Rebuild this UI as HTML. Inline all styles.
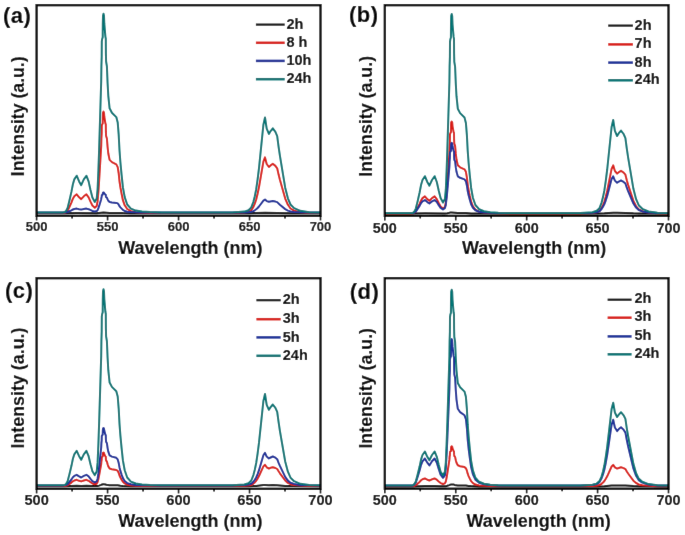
<!DOCTYPE html>
<html><head><meta charset="utf-8"><style>
html,body{margin:0;padding:0;background:#fff;}
svg{display:block;}
</style></head><body>
<svg width="685" height="535" viewBox="0 0 685 535">
<defs><filter id="bl" x="0" y="0" width="1" height="1"><feConvolveMatrix order="3" kernelMatrix="0.0035 0.0587 0.0035 0.0587 1.0000 0.0587 0.0035 0.0587 0.0035" edgeMode="duplicate"/></filter></defs>
<rect width="685" height="535" fill="#fff"/>
<g filter="url(#bl)">
<rect width="685" height="535" fill="#fff"/>
<polyline points="36.6,213.2 64.8,213.2 76.7,213.1 96.7,213.2 103.5,212.6 109.6,212.9 117.7,212.9 122.9,213.1 130.9,213.2 248.5,213.2 256.2,213.1 265.0,212.8 277.2,212.9 290.5,213.2 320.1,213.2" fill="none" stroke="#111111" stroke-width="2.0" stroke-linejoin="round"/>
<polyline points="36.6,213.1 62.6,213.1 64.8,212.9 66.2,212.3 67.6,210.9 69.5,206.9 71.4,202.6 72.9,198.7 74.3,196.3 76.7,194.3 79.1,197.3 81.2,199.2 83.8,196.3 86.4,194.3 88.6,197.3 90.5,201.6 92.4,205.5 94.8,207.7 96.7,206.0 97.6,201.2 98.4,191.6 99.1,181.3 101.2,146.1 101.4,138.5 101.7,133.4 101.8,125.8 102.1,124.6 102.7,123.6 102.8,116.7 103.0,112.6 103.5,111.6 104.0,112.6 104.3,116.7 105.4,123.3 105.8,124.3 105.9,131.9 106.1,136.0 106.9,138.5 107.6,147.1 108.3,153.5 109.6,159.9 111.9,162.1 116.3,164.4 117.7,167.1 118.7,173.5 119.5,181.3 120.4,187.4 121.6,193.9 122.9,200.2 124.7,205.3 127.2,209.0 130.9,211.2 135.8,212.2 142.0,212.7 150.1,212.9 161.6,213.1 232.1,213.1 244.3,212.6 248.5,211.8 251.3,210.2 253.4,206.9 254.8,203.6 256.2,199.5 257.6,193.7 259.0,187.1 263.4,161.6 265.0,157.4 266.7,164.0 268.9,167.0 270.6,165.4 272.8,163.8 275.4,165.9 277.2,168.3 278.6,174.6 279.9,179.8 285.2,198.6 287.9,204.8 290.5,208.5 294.1,210.6 300.3,212.2 309.2,213.0 320.1,213.1" fill="none" stroke="#d81e18" stroke-width="2.0" stroke-linejoin="round"/>
<polyline points="36.6,212.5 64.8,212.5 66.2,212.3 67.6,212.0 71.4,210.3 72.9,209.5 74.3,209.0 76.7,208.6 79.1,209.2 81.2,209.6 83.8,209.0 86.4,208.6 88.6,209.2 92.4,210.9 94.8,211.4 96.7,211.1 97.6,210.1 98.4,208.2 99.1,206.2 101.2,199.2 101.4,197.7 101.7,196.7 101.8,195.2 102.1,195.0 102.7,194.8 102.8,193.4 103.0,192.6 103.5,192.4 104.0,192.6 104.3,193.4 105.4,194.7 105.8,194.9 105.9,196.4 106.1,197.2 106.9,197.7 107.6,199.4 108.3,200.7 109.6,202.0 111.9,202.4 116.3,202.9 117.7,203.4 118.7,204.7 119.5,206.2 120.4,207.4 122.9,209.9 124.7,211.0 127.2,211.7 130.9,212.1 135.8,212.3 142.0,212.4 161.6,212.5 232.1,212.5 244.3,212.4 248.5,212.2 251.3,211.8 253.4,211.1 254.8,210.3 256.2,209.3 257.6,208.0 259.0,206.5 263.4,200.6 265.0,199.6 266.7,201.1 268.9,201.8 272.8,201.1 275.4,201.6 277.2,202.1 279.9,204.8 285.2,209.1 287.9,210.6 290.5,211.4 294.1,211.9 300.3,212.3 309.2,212.5 320.1,212.5" fill="none" stroke="#1f3098" stroke-width="2.0" stroke-linejoin="round"/>
<polyline points="36.6,212.4 62.6,212.4 64.8,212.1 66.2,210.8 67.6,208.0 69.5,200.3 71.4,191.9 72.9,184.2 74.3,179.4 76.7,175.7 79.1,181.4 81.2,185.2 83.8,179.4 86.4,175.7 88.6,181.4 90.5,190.0 92.4,197.5 94.8,201.9 96.7,198.5 97.6,189.2 98.4,170.3 99.1,150.2 101.2,81.3 101.4,66.4 101.7,56.5 101.8,41.6 102.1,39.2 102.7,37.2 102.8,23.7 103.0,15.8 103.5,13.8 104.0,15.8 104.3,23.7 105.4,36.6 105.8,38.6 105.9,53.5 106.1,61.5 106.9,66.4 107.6,83.3 108.3,95.8 109.6,108.3 111.9,112.7 116.3,117.1 117.7,122.4 118.7,134.9 119.5,150.2 120.4,162.2 121.6,174.9 122.9,187.2 124.7,197.1 127.2,204.5 130.9,208.6 135.8,210.6 142.0,211.6 150.1,212.1 161.6,212.4 232.1,212.4 244.3,211.6 248.5,210.2 251.3,207.4 253.4,201.8 254.8,196.2 256.2,189.2 257.6,179.4 259.0,168.1 263.4,124.7 265.0,117.5 266.7,128.7 268.9,133.9 270.6,131.1 272.8,128.4 275.4,131.9 277.2,136.1 278.6,146.8 279.9,155.7 285.2,187.7 287.9,198.3 290.5,204.5 294.1,208.1 300.3,210.8 309.2,212.2 320.1,212.4" fill="none" stroke="#057575" stroke-width="2.0" stroke-linejoin="round"/>
<rect x="36.6" y="5.2" width="283.90" height="210.60" fill="none" stroke="#000" stroke-width="2.3"/>
<line x1="36.60" y1="215.8" x2="36.60" y2="220.4" stroke="#000" stroke-width="1.6"/>
<line x1="72.09" y1="215.8" x2="72.09" y2="218.4" stroke="#000" stroke-width="1.6"/>
<line x1="107.57" y1="215.8" x2="107.57" y2="220.4" stroke="#000" stroke-width="1.6"/>
<line x1="143.06" y1="215.8" x2="143.06" y2="218.4" stroke="#000" stroke-width="1.6"/>
<line x1="178.55" y1="215.8" x2="178.55" y2="220.4" stroke="#000" stroke-width="1.6"/>
<line x1="214.04" y1="215.8" x2="214.04" y2="218.4" stroke="#000" stroke-width="1.6"/>
<line x1="249.53" y1="215.8" x2="249.53" y2="220.4" stroke="#000" stroke-width="1.6"/>
<line x1="285.01" y1="215.8" x2="285.01" y2="218.4" stroke="#000" stroke-width="1.6"/>
<line x1="320.50" y1="215.8" x2="320.50" y2="220.4" stroke="#000" stroke-width="1.6"/>
<polyline points="384.8,213.5 413.0,213.5 424.9,213.3 444.9,213.4 447.3,213.2 449.4,212.8 450.0,212.6 451.7,212.5 457.8,213.0 465.9,213.0 471.1,213.4 479.1,213.5 596.7,213.5 604.4,213.3 613.2,212.7 617.1,212.8 625.4,212.9 633.4,213.3 638.7,213.4 668.3,213.5" fill="none" stroke="#111111" stroke-width="2.0" stroke-linejoin="round"/>
<polyline points="384.8,213.4 410.8,213.4 413.0,213.3 414.4,212.7 415.8,211.4 417.7,207.8 419.6,203.9 421.1,200.4 422.5,198.1 424.9,196.4 427.3,199.1 429.4,200.8 432.0,198.1 434.6,196.4 436.8,199.1 438.7,203.0 440.6,206.5 443.0,208.5 444.9,207.0 445.8,202.6 446.6,193.9 447.3,184.6 449.4,152.7 449.6,145.9 449.9,141.3 450.0,134.4 450.3,133.3 450.9,132.3 451.0,126.1 451.2,122.4 451.7,121.5 452.2,122.4 452.5,126.1 453.6,132.1 454.0,133.0 454.1,139.9 454.3,143.6 455.1,145.9 455.8,153.7 456.5,159.5 457.8,165.2 460.1,167.3 464.5,169.3 465.9,171.8 466.9,177.6 467.7,184.6 468.6,190.1 469.8,196.0 471.1,201.7 472.9,206.3 475.4,209.7 479.1,211.7 484.0,212.6 490.2,213.0 498.3,213.3 509.8,213.4 580.3,213.4 592.5,213.0 596.7,212.3 599.5,210.9 601.6,208.0 603.0,205.2 604.4,201.6 605.8,196.7 607.2,190.9 611.6,168.9 613.2,165.3 614.9,171.0 617.1,173.6 618.8,172.2 621.0,170.8 623.6,172.6 625.4,174.7 626.8,180.2 628.1,184.7 633.4,200.9 636.1,206.3 638.7,209.4 642.3,211.2 648.5,212.6 657.4,213.3 668.3,213.4" fill="none" stroke="#d81e18" stroke-width="2.0" stroke-linejoin="round"/>
<polyline points="384.8,213.1 410.8,213.1 413.0,213.0 414.4,212.5 415.8,211.6 419.6,205.9 421.1,203.1 422.5,201.4 424.9,200.1 427.3,202.1 429.4,203.5 432.0,201.4 434.6,200.1 436.8,202.1 438.7,205.2 440.6,207.8 443.0,209.4 444.9,208.2 445.8,204.9 446.6,198.2 447.3,191.1 449.4,166.7 449.6,161.4 449.9,157.9 450.0,152.6 450.3,151.8 450.9,151.1 451.0,146.3 451.2,143.5 451.7,142.8 452.2,143.5 452.5,146.3 453.6,150.9 454.0,151.6 454.1,156.9 454.3,159.7 455.1,161.4 455.8,167.4 456.5,171.8 457.8,176.3 460.1,177.8 464.5,179.4 465.9,181.3 466.9,185.7 467.7,191.1 468.6,195.3 469.8,199.8 471.1,204.2 472.9,207.7 475.4,210.3 479.1,211.8 484.0,212.5 490.2,212.8 509.8,213.1 580.3,213.1 592.5,212.8 596.7,212.2 599.5,211.2 601.6,209.0 603.0,206.8 604.4,204.1 605.8,200.3 607.2,195.9 611.6,179.1 613.2,176.3 614.9,180.6 617.1,182.7 618.8,181.6 621.0,180.5 623.6,181.9 625.4,183.5 626.8,187.7 628.1,191.1 633.4,203.5 636.1,207.6 638.7,210.0 642.3,211.4 648.5,212.5 657.4,213.0 668.3,213.1" fill="none" stroke="#1f3098" stroke-width="2.0" stroke-linejoin="round"/>
<polyline points="384.8,213.0 410.8,213.0 413.0,212.7 414.4,211.4 415.8,208.6 417.7,200.9 419.6,192.5 421.1,184.7 422.5,180.0 424.9,176.2 427.3,182.0 429.4,185.7 432.0,180.0 434.6,176.2 436.8,182.0 438.7,190.5 440.6,198.1 443.0,202.5 444.9,199.1 445.8,189.7 446.6,170.8 447.3,150.7 449.4,81.7 449.6,66.7 449.9,56.8 450.0,41.9 450.3,39.5 450.9,37.5 451.0,24.0 451.2,16.0 451.7,14.0 452.2,16.0 452.5,24.0 453.6,36.9 454.0,38.9 454.1,53.8 454.3,61.8 455.1,66.7 455.8,83.7 456.5,96.2 457.8,108.7 460.1,113.1 464.5,117.5 465.9,122.9 466.9,135.4 467.7,150.7 468.6,162.7 469.8,175.4 471.1,187.7 472.9,197.7 475.4,205.0 479.1,209.2 484.0,211.2 490.2,212.2 498.3,212.7 509.8,213.0 580.3,213.0 592.5,212.2 596.7,210.8 599.5,208.1 601.6,202.6 603.0,197.1 604.4,190.2 605.8,180.6 607.2,169.5 611.6,127.0 613.2,119.9 614.9,130.9 617.1,136.0 618.8,133.2 621.0,130.6 623.6,134.0 625.4,138.1 626.8,148.6 628.1,157.4 633.4,188.8 636.1,199.2 638.7,205.2 642.3,208.8 648.5,211.4 657.4,212.8 668.3,213.0" fill="none" stroke="#057575" stroke-width="2.0" stroke-linejoin="round"/>
<rect x="384.8" y="5.2" width="283.70" height="210.60" fill="none" stroke="#000" stroke-width="2.3"/>
<line x1="384.80" y1="215.8" x2="384.80" y2="220.4" stroke="#000" stroke-width="1.6"/>
<line x1="420.26" y1="215.8" x2="420.26" y2="218.4" stroke="#000" stroke-width="1.6"/>
<line x1="455.73" y1="215.8" x2="455.73" y2="220.4" stroke="#000" stroke-width="1.6"/>
<line x1="491.19" y1="215.8" x2="491.19" y2="218.4" stroke="#000" stroke-width="1.6"/>
<line x1="526.65" y1="215.8" x2="526.65" y2="220.4" stroke="#000" stroke-width="1.6"/>
<line x1="562.11" y1="215.8" x2="562.11" y2="218.4" stroke="#000" stroke-width="1.6"/>
<line x1="597.58" y1="215.8" x2="597.58" y2="220.4" stroke="#000" stroke-width="1.6"/>
<line x1="633.04" y1="215.8" x2="633.04" y2="218.4" stroke="#000" stroke-width="1.6"/>
<line x1="668.50" y1="215.8" x2="668.50" y2="220.4" stroke="#000" stroke-width="1.6"/>
<polyline points="36.6,486.2 64.8,486.2 76.7,485.8 81.2,485.9 86.4,485.8 92.4,486.1 96.7,486.1 97.6,486.0 99.1,485.6 101.2,484.9 101.7,484.6 101.8,484.5 102.7,484.4 103.0,484.2 103.5,484.2 105.8,484.4 106.1,484.7 109.6,485.2 117.7,485.3 120.4,485.7 122.9,485.9 130.9,486.2 248.5,486.2 253.4,486.1 256.2,485.9 263.4,485.1 265.0,485.0 268.9,485.2 272.8,485.1 277.2,485.2 285.2,485.9 290.5,486.1 320.1,486.2" fill="none" stroke="#111111" stroke-width="2.0" stroke-linejoin="round"/>
<polyline points="36.6,486.0 64.8,485.9 66.2,485.7 67.6,485.3 71.4,482.6 72.9,481.3 74.3,480.5 76.7,479.8 79.1,480.8 81.2,481.4 83.8,480.5 86.4,479.8 88.6,480.8 90.5,482.2 92.4,483.5 94.8,484.2 96.7,483.7 97.6,482.1 98.4,478.9 99.1,475.5 101.2,464.0 101.4,461.5 101.7,459.8 101.8,457.3 102.1,456.9 102.7,456.5 102.8,454.3 103.0,452.9 103.5,452.6 104.0,452.9 104.3,454.3 105.4,456.4 105.8,456.8 105.9,459.3 106.1,460.6 106.9,461.5 107.6,464.3 108.3,466.4 109.6,468.5 111.9,469.2 116.3,470.0 117.7,470.9 118.7,473.0 119.5,475.5 120.4,477.5 121.6,479.7 122.9,481.8 124.7,483.4 127.2,484.7 130.9,485.4 135.8,485.7 142.0,485.9 161.6,486.0 232.1,486.0 244.3,485.8 248.5,485.5 251.3,484.9 253.4,483.6 254.8,482.4 256.2,480.8 257.6,478.6 259.0,476.1 263.4,466.4 265.0,464.8 266.7,467.3 268.9,468.5 270.6,467.8 272.8,467.2 275.4,468.0 277.2,469.0 278.6,471.3 279.9,473.3 285.2,480.5 287.9,482.9 290.5,484.2 294.1,485.0 300.3,485.6 309.2,486.0 320.1,486.0" fill="none" stroke="#d81e18" stroke-width="2.0" stroke-linejoin="round"/>
<polyline points="36.6,485.4 62.6,485.4 64.8,485.3 66.2,484.9 67.6,484.1 71.4,479.5 72.9,477.2 74.3,475.9 76.7,474.8 79.1,476.4 81.2,477.5 83.8,475.9 86.4,474.8 88.6,476.4 90.5,478.9 92.4,481.1 94.8,482.4 96.7,481.4 97.6,478.7 98.4,473.2 99.1,467.4 101.2,447.5 101.4,443.2 101.7,440.3 101.8,436.0 102.1,435.3 102.7,434.8 102.8,430.9 103.0,428.6 103.5,428.0 104.0,428.6 104.3,430.9 105.4,434.6 105.8,435.2 105.9,439.5 106.1,441.8 106.9,443.2 107.6,448.1 108.3,451.7 109.6,455.3 111.9,456.6 116.3,457.8 117.7,459.4 118.7,463.0 119.5,467.4 120.4,470.9 121.6,474.6 122.9,478.1 124.7,481.0 127.2,483.1 130.9,484.3 135.8,484.9 142.0,485.2 161.6,485.4 232.1,485.4 244.3,485.1 248.5,484.6 251.3,483.7 253.4,481.8 254.8,479.8 256.2,477.4 257.6,474.1 259.0,470.2 263.4,455.3 265.0,452.8 266.7,456.6 268.9,458.4 270.6,457.5 272.8,456.5 275.4,457.7 277.2,459.2 278.6,462.9 279.9,465.9 285.2,476.9 287.9,480.6 290.5,482.7 294.1,483.9 300.3,484.9 309.2,485.3 320.1,485.4" fill="none" stroke="#1f3098" stroke-width="2.0" stroke-linejoin="round"/>
<polyline points="36.6,485.3 62.6,485.3 64.8,485.0 66.2,483.8 67.6,481.2 69.5,473.9 71.4,466.1 72.9,458.8 74.3,454.4 76.7,450.8 79.1,456.2 81.2,459.8 83.8,454.4 86.4,450.8 88.6,456.2 90.5,464.2 92.4,471.3 94.8,475.1 96.7,471.6 97.6,462.4 98.4,443.7 99.1,423.9 101.2,355.9 101.4,341.2 101.7,331.4 101.8,316.7 102.1,314.3 102.7,312.3 102.8,299.0 103.0,291.2 103.5,289.2 104.0,291.2 104.3,299.0 105.4,311.8 105.8,313.7 105.9,328.4 106.1,336.3 106.9,341.2 107.6,357.8 108.3,370.2 109.6,382.5 111.9,386.9 116.3,391.2 117.7,396.5 118.7,408.8 119.5,423.9 120.4,435.7 121.6,448.2 122.9,460.4 124.7,470.2 127.2,477.5 130.9,481.6 135.8,483.5 142.0,484.5 150.1,485.0 161.6,485.3 232.1,485.3 244.3,484.5 248.5,483.2 251.3,480.5 253.4,475.1 254.8,469.7 256.2,463.0 257.6,453.6 259.0,442.7 263.4,400.9 265.0,394.0 266.7,404.8 268.9,409.8 270.6,407.1 272.8,404.5 275.4,407.9 277.2,411.9 278.6,422.2 279.9,430.8 285.2,461.5 287.9,471.7 290.5,477.7 294.1,481.2 300.3,483.8 309.2,485.1 320.1,485.3" fill="none" stroke="#057575" stroke-width="2.0" stroke-linejoin="round"/>
<rect x="36.6" y="278.2" width="283.90" height="210.60" fill="none" stroke="#000" stroke-width="2.3"/>
<line x1="36.60" y1="488.8" x2="36.60" y2="493.40000000000003" stroke="#000" stroke-width="1.6"/>
<line x1="72.09" y1="488.8" x2="72.09" y2="491.40000000000003" stroke="#000" stroke-width="1.6"/>
<line x1="107.57" y1="488.8" x2="107.57" y2="493.40000000000003" stroke="#000" stroke-width="1.6"/>
<line x1="143.06" y1="488.8" x2="143.06" y2="491.40000000000003" stroke="#000" stroke-width="1.6"/>
<line x1="178.55" y1="488.8" x2="178.55" y2="493.40000000000003" stroke="#000" stroke-width="1.6"/>
<line x1="214.04" y1="488.8" x2="214.04" y2="491.40000000000003" stroke="#000" stroke-width="1.6"/>
<line x1="249.53" y1="488.8" x2="249.53" y2="493.40000000000003" stroke="#000" stroke-width="1.6"/>
<line x1="285.01" y1="488.8" x2="285.01" y2="491.40000000000003" stroke="#000" stroke-width="1.6"/>
<line x1="320.50" y1="488.8" x2="320.50" y2="493.40000000000003" stroke="#000" stroke-width="1.6"/>
<polyline points="384.8,486.4 413.0,486.4 424.9,486.0 429.4,486.1 434.6,486.0 440.6,486.2 444.9,486.3 445.8,486.2 447.3,485.8 449.4,485.1 449.9,484.8 450.0,484.7 450.9,484.6 451.2,484.4 451.7,484.4 454.0,484.6 454.3,484.9 457.8,485.4 465.9,485.5 468.6,485.9 471.1,486.1 479.1,486.4 596.7,486.4 604.4,486.2 611.6,485.5 613.2,485.4 617.1,485.6 621.0,485.5 625.4,485.6 633.4,486.1 638.7,486.3 668.3,486.4" fill="none" stroke="#111111" stroke-width="2.0" stroke-linejoin="round"/>
<polyline points="384.8,486.2 413.0,486.1 414.4,485.9 415.8,485.3 419.6,481.9 421.1,480.3 422.5,479.3 424.9,478.5 427.3,479.7 429.4,480.5 432.0,479.3 434.6,478.5 436.8,479.7 438.7,481.5 440.6,483.1 443.0,484.0 444.9,483.4 445.8,481.5 446.6,477.8 447.3,473.7 449.4,459.9 449.6,456.9 449.9,455.0 450.0,452.0 450.3,451.5 450.9,451.1 451.0,448.4 451.2,446.8 451.7,446.4 452.2,446.8 452.5,448.4 453.6,451.0 454.0,451.4 454.1,454.4 454.3,456.0 455.1,456.9 455.8,460.3 456.5,462.8 457.8,465.3 460.1,466.2 464.5,467.1 465.9,468.2 466.9,470.7 467.7,473.7 468.6,476.1 469.8,478.7 471.1,481.1 472.9,483.1 475.4,484.6 479.1,485.4 484.0,485.8 490.2,486.0 509.8,486.2 580.3,486.2 592.5,486.0 596.7,485.7 599.5,485.1 601.6,483.8 603.0,482.6 604.4,481.0 605.8,478.8 607.2,476.3 611.6,466.5 613.2,464.9 614.9,467.4 617.1,468.6 618.8,468.0 621.0,467.3 623.6,468.1 625.4,469.1 626.8,471.5 628.1,473.5 633.4,480.7 636.1,483.0 638.7,484.4 642.3,485.2 648.5,485.8 657.4,486.2 668.3,486.2" fill="none" stroke="#d81e18" stroke-width="2.0" stroke-linejoin="round"/>
<polyline points="384.8,485.6 410.8,485.6 413.0,485.4 414.4,484.4 415.8,482.4 417.7,476.7 419.6,470.5 421.1,464.8 422.5,461.3 424.9,458.5 427.3,462.7 429.4,465.5 432.0,461.3 434.6,458.5 436.8,462.7 438.7,469.0 440.6,474.6 443.0,477.8 444.9,475.3 445.8,468.5 446.6,454.5 447.3,439.7 449.4,388.9 449.6,377.9 449.9,370.6 450.0,359.6 450.3,357.9 450.9,356.4 451.0,346.4 451.2,340.6 451.7,339.1 452.2,340.6 452.5,346.4 453.6,355.9 454.0,357.4 454.1,368.4 454.3,374.3 455.1,377.9 455.8,390.4 456.5,399.6 457.8,408.8 460.1,412.1 464.5,415.3 465.9,419.2 466.9,428.5 467.7,439.7 468.6,448.5 469.8,457.9 471.1,467.0 472.9,474.3 475.4,479.7 479.1,482.8 484.0,484.3 490.2,485.0 498.3,485.4 509.8,485.6 580.3,485.6 592.5,485.0 596.7,484.1 599.5,482.1 601.6,478.2 603.0,474.4 604.4,469.5 605.8,462.7 607.2,454.8 611.6,424.7 613.2,419.7 614.9,427.5 617.1,431.1 618.8,429.1 621.0,427.3 623.6,429.7 625.4,432.6 626.8,440.0 628.1,446.2 633.4,468.4 636.1,475.8 638.7,480.1 642.3,482.6 648.5,484.5 657.4,485.5 668.3,485.6" fill="none" stroke="#1f3098" stroke-width="2.0" stroke-linejoin="round"/>
<polyline points="384.8,485.5 410.8,485.5 413.0,485.2 414.4,484.0 415.8,481.5 417.7,474.3 419.6,466.6 421.1,459.4 422.5,455.0 424.9,451.5 427.3,456.8 429.4,460.3 432.0,455.0 434.6,451.5 436.8,456.8 438.7,464.7 440.6,471.7 443.0,475.4 444.9,471.8 445.8,462.6 446.6,444.0 447.3,424.2 449.4,356.3 449.6,341.7 449.9,331.9 450.0,317.2 450.3,314.8 450.9,312.9 451.0,299.6 451.2,291.8 451.7,289.8 452.2,291.8 452.5,299.6 453.6,312.3 454.0,314.3 454.1,328.9 454.3,336.8 455.1,341.7 455.8,358.3 456.5,370.6 457.8,383.0 460.1,387.3 464.5,391.6 465.9,396.8 466.9,409.2 467.7,424.2 468.6,436.0 469.8,448.5 471.1,460.6 472.9,470.4 475.4,477.7 479.1,481.8 484.0,483.7 490.2,484.7 498.3,485.2 509.8,485.5 580.3,485.5 592.5,484.8 596.7,483.6 599.5,481.1 601.6,476.3 603.0,471.4 604.4,465.3 605.8,456.7 607.2,446.8 611.6,409.0 613.2,402.7 614.9,412.5 617.1,417.0 618.8,414.6 621.0,412.2 623.6,415.3 625.4,418.9 626.8,428.3 628.1,436.0 633.4,463.9 636.1,473.2 638.7,478.6 642.3,481.7 648.5,484.1 657.4,485.3 668.3,485.5" fill="none" stroke="#057575" stroke-width="2.0" stroke-linejoin="round"/>
<rect x="384.8" y="278.2" width="283.70" height="210.50" fill="none" stroke="#000" stroke-width="2.3"/>
<line x1="384.80" y1="488.7" x2="384.80" y2="493.3" stroke="#000" stroke-width="1.6"/>
<line x1="420.26" y1="488.7" x2="420.26" y2="491.3" stroke="#000" stroke-width="1.6"/>
<line x1="455.73" y1="488.7" x2="455.73" y2="493.3" stroke="#000" stroke-width="1.6"/>
<line x1="491.19" y1="488.7" x2="491.19" y2="491.3" stroke="#000" stroke-width="1.6"/>
<line x1="526.65" y1="488.7" x2="526.65" y2="493.3" stroke="#000" stroke-width="1.6"/>
<line x1="562.11" y1="488.7" x2="562.11" y2="491.3" stroke="#000" stroke-width="1.6"/>
<line x1="597.58" y1="488.7" x2="597.58" y2="493.3" stroke="#000" stroke-width="1.6"/>
<line x1="633.04" y1="488.7" x2="633.04" y2="491.3" stroke="#000" stroke-width="1.6"/>
<line x1="668.50" y1="488.7" x2="668.50" y2="493.3" stroke="#000" stroke-width="1.6"/>
<line x1="255.9" y1="24.6" x2="284.7" y2="24.6" stroke="#111111" stroke-width="2.2"/>
<line x1="255.9" y1="42.8" x2="284.7" y2="42.8" stroke="#d81e18" stroke-width="2.5"/>
<line x1="255.9" y1="60.9" x2="284.7" y2="60.9" stroke="#1f3098" stroke-width="2.5"/>
<line x1="255.9" y1="79.2" x2="284.7" y2="79.2" stroke="#057575" stroke-width="2.5"/>
<line x1="608.2" y1="25.6" x2="632.9" y2="25.6" stroke="#111111" stroke-width="2.2"/>
<line x1="608.2" y1="44.4" x2="632.9" y2="44.4" stroke="#d81e18" stroke-width="2.5"/>
<line x1="608.2" y1="62.599999999999994" x2="632.9" y2="62.599999999999994" stroke="#1f3098" stroke-width="2.5"/>
<line x1="608.2" y1="80.3" x2="632.9" y2="80.3" stroke="#057575" stroke-width="2.5"/>
<line x1="256.4" y1="300.2" x2="280.7" y2="300.2" stroke="#111111" stroke-width="2.2"/>
<line x1="256.4" y1="319.2" x2="280.7" y2="319.2" stroke="#d81e18" stroke-width="2.5"/>
<line x1="256.4" y1="337.40000000000003" x2="280.7" y2="337.40000000000003" stroke="#1f3098" stroke-width="2.5"/>
<line x1="256.4" y1="355.8" x2="280.7" y2="355.8" stroke="#057575" stroke-width="2.5"/>
<line x1="607.6" y1="299.7" x2="631.6" y2="299.7" stroke="#111111" stroke-width="2.2"/>
<line x1="607.6" y1="317.7" x2="631.6" y2="317.7" stroke="#d81e18" stroke-width="2.5"/>
<line x1="607.6" y1="336.40000000000003" x2="631.6" y2="336.40000000000003" stroke="#1f3098" stroke-width="2.5"/>
<line x1="607.6" y1="354.3" x2="631.6" y2="354.3" stroke="#057575" stroke-width="2.5"/>
<g style="font-family:'Liberation Sans',sans-serif;font-weight:bold" fill="#000" stroke="#000" stroke-width="0.12">
<text x="36.60" y="231.4" font-size="13" text-anchor="middle" >500</text>
<text x="107.57" y="231.4" font-size="13" text-anchor="middle" >550</text>
<text x="178.55" y="231.4" font-size="13" text-anchor="middle" >600</text>
<text x="249.53" y="231.4" font-size="13" text-anchor="middle" >650</text>
<text x="320.50" y="231.4" font-size="13" text-anchor="middle" >700</text>
<text x="384.80" y="232.8" font-size="14.4" text-anchor="middle" >500</text>
<text x="455.73" y="232.8" font-size="14.4" text-anchor="middle" >550</text>
<text x="526.65" y="232.8" font-size="14.4" text-anchor="middle" >600</text>
<text x="597.58" y="232.8" font-size="14.4" text-anchor="middle" >650</text>
<text x="668.50" y="232.8" font-size="14.4" text-anchor="middle" >700</text>
<text x="36.60" y="505.2" font-size="14.6" text-anchor="middle" >500</text>
<text x="107.57" y="505.2" font-size="14.6" text-anchor="middle" >550</text>
<text x="178.55" y="505.2" font-size="14.6" text-anchor="middle" >600</text>
<text x="249.53" y="505.2" font-size="14.6" text-anchor="middle" >650</text>
<text x="320.50" y="505.2" font-size="14.6" text-anchor="middle" >700</text>
<text x="384.80" y="505.4" font-size="14.4" text-anchor="middle" >500</text>
<text x="455.73" y="505.4" font-size="14.4" text-anchor="middle" >550</text>
<text x="526.65" y="505.4" font-size="14.4" text-anchor="middle" >600</text>
<text x="597.58" y="505.4" font-size="14.4" text-anchor="middle" >650</text>
<text x="668.50" y="505.4" font-size="14.4" text-anchor="middle" >700</text>
<text x="118.2" y="253.54999999999998" font-size="18" text-anchor="start" >Wavelength (nm)</text>
<text x="462.0" y="253.54999999999998" font-size="18" text-anchor="start" >Wavelength (nm)</text>
<text x="118.2" y="526.85" font-size="18" text-anchor="start" >Wavelength (nm)</text>
<text x="466.5" y="526.85" font-size="18" text-anchor="start" >Wavelength (nm)</text>
<text transform="translate(24,175.2) rotate(-90) scale(0.983,1)" font-size="18" x="-1" y="0">Intensity (a.u.)</text>
<text transform="translate(372,175.7) rotate(-90) scale(0.99,1)" font-size="18" x="-1" y="0">Intensity (a.u.)</text>
<text transform="translate(23.7,447.6) rotate(-90) scale(0.993,1)" font-size="18" x="-1" y="0">Intensity (a.u.)</text>
<text transform="translate(372,447.6) rotate(-90) scale(0.989,1)" font-size="18" x="-1" y="0">Intensity (a.u.)</text>
<text x="3.0" y="22.6" font-size="22" text-anchor="start" letter-spacing="0.5">(a)</text>
<text x="349.0" y="22.3" font-size="22" text-anchor="start" letter-spacing="0.5">(b)</text>
<text x="4.9" y="298.0" font-size="22" text-anchor="start" letter-spacing="0.5">(c)</text>
<text x="349.7" y="298.7" font-size="22" text-anchor="start" letter-spacing="0.5">(d)</text>
<text x="286.4" y="28.8" font-size="14.5" text-anchor="start" >2h</text>
<text x="286.4" y="47.0" font-size="14.5" text-anchor="start" >8 h</text>
<text x="286.4" y="65.1" font-size="14.5" text-anchor="start" >10h</text>
<text x="286.4" y="83.4" font-size="14.5" text-anchor="start" >24h</text>
<text x="634.6" y="29.5" font-size="14.5" text-anchor="start" >2h</text>
<text x="634.6" y="48.3" font-size="14.5" text-anchor="start" >7h</text>
<text x="634.6" y="66.5" font-size="14.5" text-anchor="start" >8h</text>
<text x="634.6" y="84.2" font-size="14.5" text-anchor="start" >24h</text>
<text x="282.79999999999995" y="304.3" font-size="14.5" text-anchor="start" >2h</text>
<text x="282.79999999999995" y="323.3" font-size="14.5" text-anchor="start" >3h</text>
<text x="282.79999999999995" y="341.5" font-size="14.5" text-anchor="start" >5h</text>
<text x="282.79999999999995" y="359.9" font-size="14.5" text-anchor="start" >24h</text>
<text x="634.4" y="303.2" font-size="14.5" text-anchor="start" >2h</text>
<text x="634.4" y="321.2" font-size="14.5" text-anchor="start" >3h</text>
<text x="634.4" y="339.9" font-size="14.5" text-anchor="start" >5h</text>
<text x="634.4" y="357.8" font-size="14.5" text-anchor="start" >24h</text>
</g>
</g>
</svg>
</body></html>
